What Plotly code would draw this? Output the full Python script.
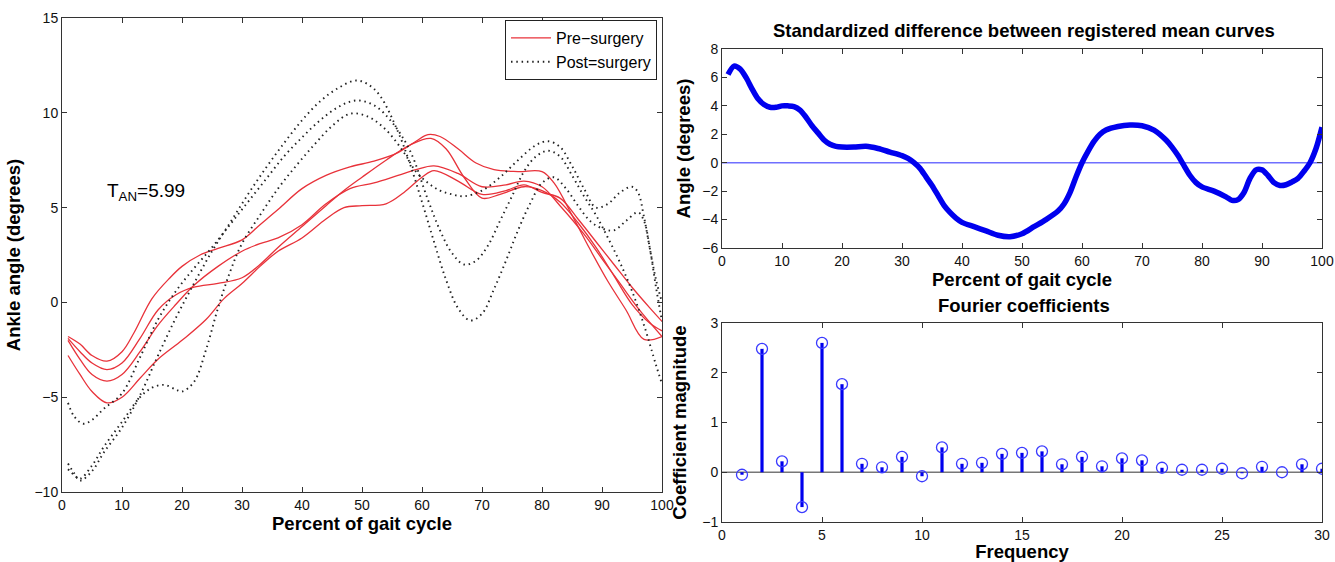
import plotly.graph_objects as go

W, H = 1335, 562

# ---------------- Left panel: ankle angle curves ----------------
pre_a_x = [1, 3, 5, 7.5, 10, 12, 15, 18, 20, 23, 26, 30, 33, 36, 40, 44, 48, 52, 56, 59, 61, 63, 66, 69, 72, 76, 80, 82, 85, 88, 91, 94, 97, 100]
pre_a_y = [-1.8, -2.2, -2.8, -3.1, -2.6, -1.6, 0.2, 1.3, 1.9, 2.5, 2.85, 3.3, 4.1, 4.9, 6.0, 6.7, 7.15, 7.45, 7.9, 8.5, 8.85, 8.75, 8.1, 7.35, 7.0, 6.9, 6.9, 6.3, 4.6, 2.8, 1.1, -0.4, -1.95, -1.8]

pre_b_x = [1, 3, 5, 7.5, 10, 13, 16, 19, 22, 26, 30, 33, 36, 40, 44, 47, 50, 54, 58, 61.5, 64, 67, 70, 73, 77, 80, 83, 86, 89, 92, 95, 98, 100]
pre_b_y = [-1.9, -2.6, -3.2, -3.55, -3.2, -1.9, -0.4, 0.4, 0.8, 1.0, 1.3, 2.0, 2.9, 4.0, 5.1, 5.9, 6.6, 7.5, 8.3, 8.65, 8.1, 6.6, 5.5, 5.7, 6.1, 5.9, 5.3, 4.2, 2.9, 1.4, -0.1, -1.1, -1.5]

pre_c_x = [1, 3, 5, 7.5, 10, 13, 16, 19, 22, 26, 30, 33, 36, 40, 44, 48, 52, 56, 59, 62, 66, 70, 74, 77, 80, 83, 87, 90, 93, 96, 100]
pre_c_y = [-2.0, -3.0, -3.8, -4.15, -3.8, -2.6, -1.2, -0.1, 0.9, 1.9, 2.7, 3.1, 3.4, 4.1, 5.2, 6.0, 6.3, 6.7, 7.0, 7.2, 6.8, 6.1, 6.2, 6.4, 6.1, 5.1, 3.6, 2.3, 1.0, -0.3, -1.8]

pre_d_x = [1, 3, 5, 7.5, 10, 13, 16, 20, 24, 27, 30, 33, 36, 40, 44, 47, 50, 54, 57, 60, 62, 66, 70, 74, 77, 80, 83, 86, 89, 92, 95, 98, 100]
pre_d_y = [-2.8, -3.8, -4.7, -5.3, -5.0, -4.0, -3.0, -2.0, -0.9, 0.2, 1.0, 1.9, 2.7, 3.4, 4.4, 5.0, 5.1, 5.2, 5.8, 6.6, 6.95, 6.4, 5.7, 5.9, 6.2, 5.8, 5.5, 4.4, 3.2, 2.0, 0.8, -0.3, -1.0]

post_e_x = [1, 2, 3.5, 5, 7, 10, 13, 16, 19, 22, 25, 28, 31, 34, 37, 40, 43, 46, 49, 52, 55, 58, 61, 63, 65, 67, 69, 71, 73, 75, 77, 79, 81, 83, 85, 87, 89, 91, 93, 95, 97, 99, 100]
post_e_y = [-5.3, -6.0, -6.4, -6.2, -5.6, -4.8, -2.9, -0.9, 0.6, 1.8, 2.9, 4.1, 5.3, 6.5, 7.7, 8.7, 9.6, 10.3, 10.65, 10.4, 9.5, 8.0, 5.4, 3.8, 2.6, 2.0, 2.2, 3.0, 4.3, 5.6, 6.9, 7.7, 8.0, 7.7, 6.7, 5.6, 4.6, 3.4, 2.1, 0.6, -1.2, -3.3, -4.3]

post_f_x = [1, 2, 3, 5, 7, 10, 13, 16, 19, 22, 25, 28, 31, 34, 37, 40, 43, 46, 49, 51, 53, 56, 58, 60, 62, 64, 66, 68, 70, 72, 74, 76, 78, 80, 82, 84, 86, 88, 90, 92, 94, 96, 97, 98, 99, 100]
post_f_y = [-8.5, -9.0, -9.4, -8.9, -7.9, -6.6, -4.9, -2.8, -0.8, 1.0, 2.7, 4.2, 5.7, 7.1, 8.4, 9.6, 10.6, 11.3, 11.7, 11.5, 10.9, 9.0, 7.3, 5.3, 3.2, 1.2, -0.3, -0.95, -0.6, 0.7, 2.2, 3.8, 5.2, 6.3, 6.6, 6.0, 5.1, 4.3, 3.9, 3.8, 4.3, 4.75, 4.3, 2.8, 0.8, -1.0]

post_g_x = [1, 2, 3, 5, 7, 10, 13, 15, 17, 19, 20, 22, 24, 26, 28, 30, 33, 36, 39, 42, 45, 48, 51, 54, 57, 59, 61, 63, 65, 67, 70, 73, 76, 79, 81, 83, 85, 87, 89, 91, 93, 95, 96, 97, 98, 99, 100]
post_g_y = [-8.8, -9.1, -9.3, -8.6, -7.6, -6.3, -5.0, -4.5, -4.35, -4.6, -4.7, -4.2, -2.5, -0.3, 1.6, 3.1, 4.6, 6.0, 7.2, 8.3, 9.3, 9.95, 9.8, 9.1, 7.9, 6.9, 6.3, 5.9, 5.7, 5.6, 5.9, 6.6, 7.5, 8.3, 8.5, 8.2, 7.2, 6.0, 5.0, 5.2, 5.8, 6.1, 5.8, 4.5, 2.8, 1.2, 0.0]

pre_curves = [(pre_a_x, pre_a_y), (pre_b_x, pre_b_y), (pre_c_x, pre_c_y), (pre_d_x, pre_d_y)]
post_curves = [(post_e_x, post_e_y), (post_f_x, post_f_y), (post_g_x, post_g_y)]

# ---------------- Right top: standardized difference ----------------
diff_x = [1, 2, 3, 4, 5, 6, 7, 8, 9, 10, 11, 12, 13, 14, 15, 16, 17, 18, 19, 20, 22, 24, 26, 28, 30, 31, 32, 33, 34, 35, 36, 37, 38, 39, 40, 42, 44, 46, 48, 50, 52, 54, 56, 57, 58, 59, 60, 61, 62, 63, 64, 66, 68, 70, 72, 74, 75, 76, 77, 78, 79, 80, 82, 84, 85, 86, 87, 88, 89, 90, 91, 92, 93, 94, 95, 96, 97, 98, 99, 100]
diff_y = [6.2, 6.8, 6.6, 6.0, 5.2, 4.5, 4.1, 3.9, 3.9, 4.0, 4.0, 3.95, 3.7, 3.2, 2.6, 2.1, 1.6, 1.3, 1.15, 1.1, 1.1, 1.15, 1.0, 0.75, 0.5, 0.3, 0.0, -0.4, -1.0, -1.6, -2.3, -3.0, -3.5, -3.9, -4.2, -4.5, -4.8, -5.1, -5.2, -5.0, -4.5, -4.0, -3.4, -2.9, -2.1, -1.0, 0.0, 0.8, 1.5, 2.0, 2.3, 2.55, 2.65, 2.6, 2.3, 1.6, 1.1, 0.5, -0.2, -0.9, -1.4, -1.7, -2.0, -2.4, -2.65, -2.6, -2.1, -1.1, -0.5, -0.5, -0.9, -1.4, -1.6, -1.55, -1.35, -1.1, -0.6, 0.0, 1.0, 2.5]
zero_x = [0, 100]
zero_y = [0, 0]

# ---------------- Right bottom: Fourier coefficients ----------------
freq = list(range(1, 31))
coef = [-0.05, 2.48, 0.22, -0.70, 2.60, 1.77, 0.17, 0.10, 0.31, -0.08,
        0.50, 0.17, 0.19, 0.37, 0.39, 0.42, 0.16, 0.31, 0.12, 0.28,
        0.24, 0.09, 0.05, 0.05, 0.07, -0.02, 0.11, 0.00, 0.16, 0.07]
base_x = [0, 30]
base_y = [0, 0]

FONT = "Liberation Sans, Arial, Helvetica, sans-serif"
fig = go.Figure()

RED = "#e8323a"
for i, (xs, ys) in enumerate(pre_curves):
    fig.add_trace(go.Scatter(x=xs, y=ys, mode="lines", name="Pre\u2212surgery",
                             line=dict(color=RED, width=1.3, shape="spline", smoothing=1.0),
                             showlegend=(i == 0), xaxis="x", yaxis="y"))
for i, (xs, ys) in enumerate(post_curves):
    fig.add_trace(go.Scatter(x=xs, y=ys, mode="lines", name="Post=surgery",
                             line=dict(color="#222222", width=1.9, dash="1.5px,3.8px", shape="spline", smoothing=1.0),
                             showlegend=(i == 0), xaxis="x", yaxis="y"))

fig.add_trace(go.Scatter(x=zero_x, y=zero_y, mode="lines", line=dict(color="#6f6fff", width=1.4),
                         showlegend=False, xaxis="x2", yaxis="y2"))
fig.add_trace(go.Scatter(x=diff_x, y=diff_y, mode="lines", line=dict(color="#0000ee", width=5.5, shape="spline", smoothing=0.8),
                         showlegend=False, xaxis="x2", yaxis="y2"))

fig.add_trace(go.Scatter(x=base_x, y=base_y, mode="lines", line=dict(color="#777777", width=1.3),
                         showlegend=False, xaxis="x3", yaxis="y3"))
stem_x, stem_y = [], []
for f, c in zip(freq, coef):
    stem_x += [f, f, None]
    stem_y += [0, c, None]
fig.add_trace(go.Scatter(x=stem_x, y=stem_y, mode="lines", line=dict(color="#0000ee", width=3.2),
                         showlegend=False, xaxis="x3", yaxis="y3"))
fig.add_trace(go.Scatter(x=freq, y=coef, mode="markers",
                         marker=dict(symbol="circle-open", size=11, color="#3a3aff", line=dict(width=1.3, color="#3a3aff")),
                         showlegend=False, xaxis="x3", yaxis="y3"))

def px_x(a, b):
    return [a / W, b / W]

def px_y(top, bottom):
    return [1 - bottom / H, 1 - top / H]

axis_common = dict(showline=True, linecolor="#333333", linewidth=1, mirror="ticks",
                   ticks="inside", ticklen=5, tickcolor="#333333", showgrid=False, zeroline=False,
                   automargin=False,
                   tickfont=dict(family=FONT, size=14, color="#111111"))
title_font = dict(family=FONT, size=18.5, color="#000000")
head_font = dict(family=FONT, size=18.5, color="#000000")

fig.update_layout(
    width=W, height=H, margin=dict(l=0, r=0, t=0, b=0, autoexpand=False),
    paper_bgcolor="white", plot_bgcolor="white",
    font=dict(family=FONT),
    xaxis=dict(domain=px_x(62, 662), range=[0, 100], dtick=10, anchor="y",
               title=dict(text="<b>Percent of gait cycle</b>", font=title_font, standoff=3), **axis_common),
    yaxis=dict(domain=px_y(18, 492), range=[-10, 15], dtick=5, anchor="x",
               title=dict(text="<b>Ankle angle (degrees)</b>", font=title_font, standoff=8), **axis_common),
    xaxis2=dict(domain=px_x(722, 1322), range=[0, 100], dtick=10, anchor="y2",
                title=dict(text="<b>Percent of gait cycle</b>", font=title_font, standoff=1), **axis_common),
    yaxis2=dict(domain=px_y(49, 248), range=[-6, 8], dtick=2, anchor="x2",
                title=dict(text="<b>Angle (degrees)</b>", font=title_font, standoff=6), **axis_common),
    xaxis3=dict(domain=px_x(722, 1322), range=[0, 30], dtick=5, anchor="y3",
                title=dict(text="<b>Frequency</b>", font=title_font, standoff=1), **axis_common),
    yaxis3=dict(domain=px_y(323, 522), range=[-1, 3], dtick=1, anchor="x3",
                title=dict(text="<b>Coefficient magnitude</b>", font=title_font, standoff=10), **axis_common),
    legend=dict(x=657 / W, y=1 - 20 / H, xanchor="right", yanchor="top",
                bgcolor="white", bordercolor="#222222", borderwidth=1,
                font=dict(family=FONT, size=16, color="#000000"), tracegroupgap=0,
                itemwidth=40),
    annotations=[
        dict(text="<b>Standardized difference between registered mean curves</b>", x=1024 / W, y=1 - 30 / H,
             xref="paper", yref="paper", xanchor="center", yanchor="middle", showarrow=False,
             font=head_font),
        dict(text="<b>Fourier coefficients</b>", x=1024 / W, y=1 - 305 / H,
             xref="paper", yref="paper", xanchor="center", yanchor="middle", showarrow=False,
             font=head_font),
        dict(text="T<sub>AN</sub>=5.99", x=7.2, y=5.8, xref="x", yref="y", xanchor="left",
             showarrow=False, font=dict(family=FONT, size=19, color="#000")),
    ],
)

fig.write_html("out.html", config={"displayModeBar": False},
               post_script="document.body.style.margin='0';document.body.style.overflow='hidden';")
